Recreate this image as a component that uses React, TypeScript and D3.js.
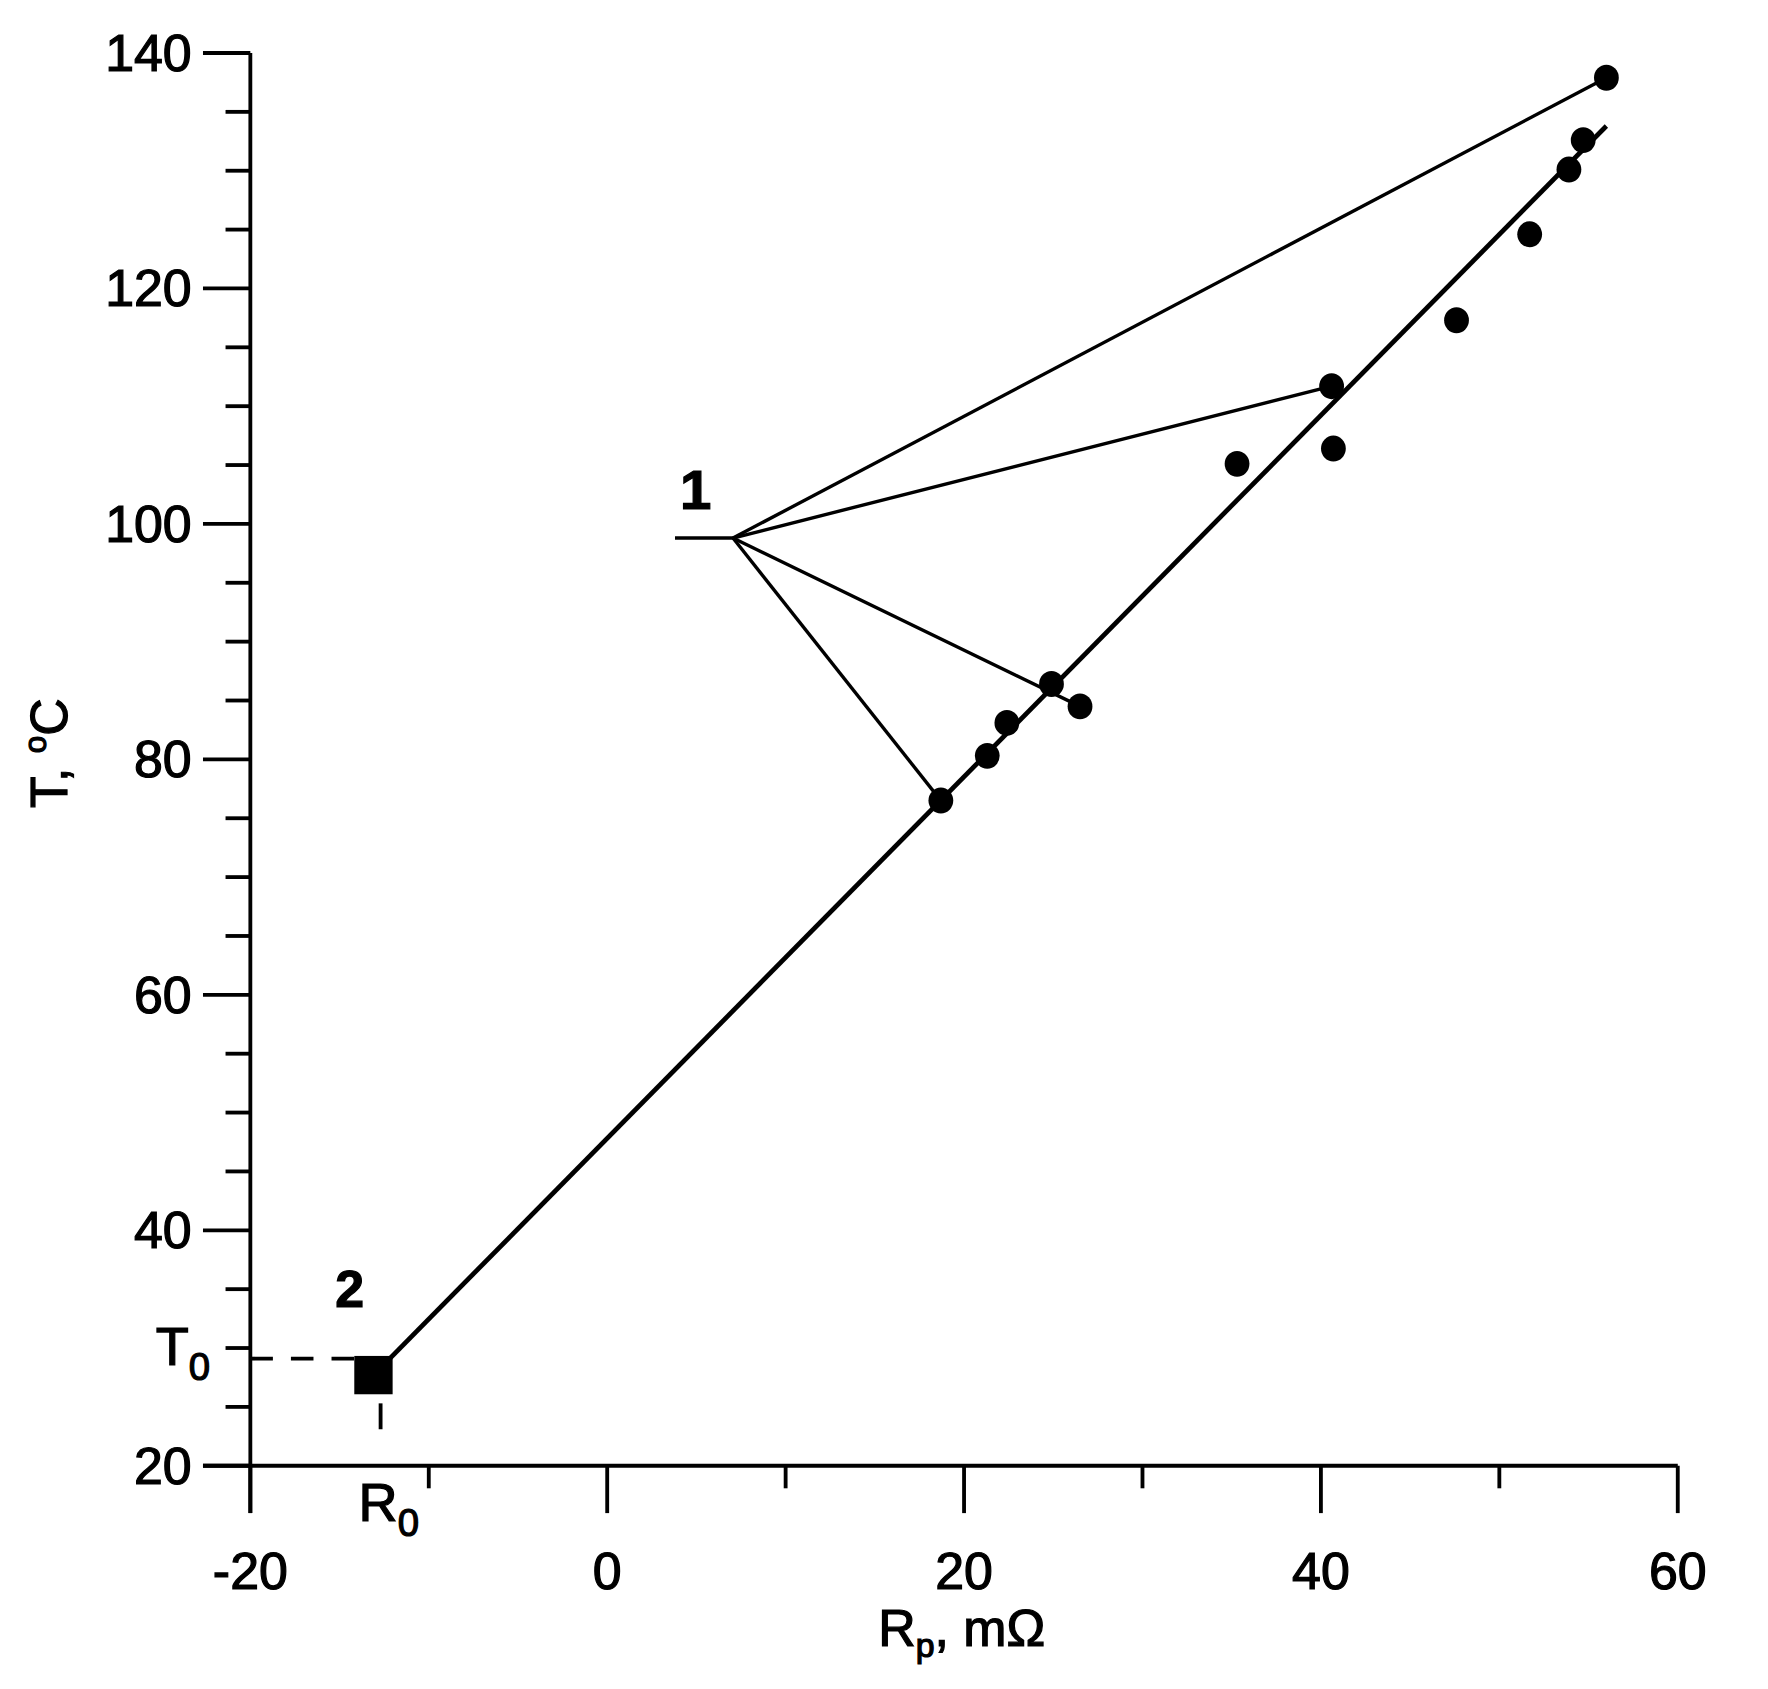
import { useEffect, useRef } from "react";
import * as d3 from "d3";

// measured points: resistance Rp (mΩ) and temperature T (°C)
const resistance = [18.7, 21.3, 22.4, 24.9, 26.5, 35.3, 40.6, 40.7, 47.6, 51.7, 53.9, 54.7, 56.0];
const temperature = [76.5, 80.3, 83.1, 86.4, 84.5, 105.1, 111.7, 106.4, 117.3, 124.6, 130.1, 132.6, 137.9];

// straight fit running from the extrapolated point (R0, T0) to the top
const fitR = [-13.1, 56.0];
const fitT = [27.7, 133.8];

// label "1" hub and the points it points to
const hubR = [3.8, 7.05];
const hubT = 98.8;
const fanTargets = [12, 6, 4, 0];

// extrapolated point "2"
const squareR = -13.1;
const squareT = 27.7;
const T0 = 29.1;
const R0 = -12.7;
const R0Mark = [23.1, 25.3];

const xTicks = d3.range(-20, 61, 10);
const yTicks = d3.range(20, 141, 5);

const W = 1568;
const H = 1498;
const FONT = "'Liberation Sans', Arial, sans-serif";

export default function App() {
  const svgRef = useRef<SVGSVGElement>(null);

  useEffect(() => {
    if (!svgRef.current) return;
    const svg = d3.select(svgRef.current);
    svg.selectAll("*").remove();

    const x = d3.scaleLinear().domain([-20, 60]).range([222, 1488]);
    const y = d3.scaleLinear().domain([20, 140]).range([1300, 47]);

    svg.append("rect").attr("width", W).attr("height", H).attr("fill", "white");

    // scanned look: text gets a thin outline to thicken the strokes
    const g = svg
      .append("g")
      .attr("font-family", FONT)
      .attr("fill", "black");
    const txt = g.append("g").attr("stroke", "black").attr("stroke-width", 1.1);

    // axes
    const axis = g.append("g").attr("stroke", "black").attr("stroke-width", 3.4);
    axis.append("line").attr("x1", x(-20) - 42).attr("x2", x(60)).attr("y1", y(20)).attr("y2", y(20));
    axis.append("line").attr("x1", x(-20)).attr("x2", x(-20)).attr("y1", y(20) + 42).attr("y2", y(140));

    axis
      .selectAll(".xt")
      .data(xTicks)
      .enter()
      .append("line")
      .attr("x1", (d) => x(d))
      .attr("x2", (d) => x(d))
      .attr("y1", y(20))
      .attr("y2", (d) => y(20) + (d % 20 === 0 ? 42 : 20));

    axis
      .selectAll(".yt")
      .data(yTicks)
      .enter()
      .append("line")
      .attr("y1", (d) => y(d))
      .attr("y2", (d) => y(d))
      .attr("x1", x(-20))
      .attr("x2", (d) => x(-20) - (d % 20 === 0 ? 42 : 22));

    txt
      .selectAll(".xl")
      .data(xTicks.filter((d) => d % 20 === 0))
      .enter()
      .append("text")
      .attr("x", (d) => x(d))
      .attr("y", 1409)
      .attr("text-anchor", "middle")
      .attr("font-size", 46)
      .text((d) => String(d));

    txt
      .selectAll(".yl")
      .data(yTicks.filter((d) => d % 20 === 0))
      .enter()
      .append("text")
      .attr("x", 170)
      .attr("y", (d) => y(d) + 16)
      .attr("text-anchor", "end")
      .attr("font-size", 46)
      .text((d) => String(d));

    // axis titles
    const yTitle = txt
      .append("text")
      .attr("transform", "translate(59, 668) rotate(-90)")
      .attr("text-anchor", "middle")
      .attr("font-size", 46);
    yTitle.append("tspan").text("T, ");
    yTitle.append("tspan").attr("font-size", 28).attr("dy", -18).text("o");
    yTitle.append("tspan").attr("dy", 18).text("C");

    const xTitle = txt
      .append("text")
      .attr("x", 853)
      .attr("y", 1460)
      .attr("text-anchor", "middle")
      .attr("font-size", 46);
    xTitle.append("tspan").text("R");
    xTitle.append("tspan").attr("font-size", 30).attr("dy", 10).text("p");
    xTitle.append("tspan").attr("dy", -10).text(", mΩ");

    // fit line
    g.append("line")
      .attr("x1", x(fitR[0]))
      .attr("y1", y(fitT[0]))
      .attr("x2", x(fitR[1]))
      .attr("y2", y(fitT[1]))
      .attr("stroke", "black")
      .attr("stroke-width", 4.2);

    // fan of pointer lines from label 1
    const fan = g.append("g").attr("stroke", "black").attr("stroke-width", 3);
    fan.append("line")
      .attr("x1", x(hubR[0]))
      .attr("x2", x(hubR[1]))
      .attr("y1", y(hubT))
      .attr("y2", y(hubT));
    fan
      .selectAll(".fan")
      .data(fanTargets)
      .enter()
      .append("line")
      .attr("x1", x(hubR[1]))
      .attr("y1", y(hubT))
      .attr("x2", (i) => x(resistance[i]))
      .attr("y2", (i) => y(temperature[i]));

    // T0 dashed guide and R0 mark
    g.append("line")
      .attr("x1", x(-20))
      .attr("x2", x(squareR) - 12)
      .attr("y1", y(T0))
      .attr("y2", y(T0))
      .attr("stroke", "black")
      .attr("stroke-width", 3.4)
      .attr("stroke-dasharray", "20 16");
    g.append("line")
      .attr("x1", x(R0))
      .attr("x2", x(R0))
      .attr("y1", y(R0Mark[0]))
      .attr("y2", y(R0Mark[1]))
      .attr("stroke", "black")
      .attr("stroke-width", 3.4);

    // data points
    g.selectAll(".pt")
      .data(resistance)
      .enter()
      .append("ellipse")
      .attr("cx", (d) => x(d))
      .attr("cy", (_d, i) => y(temperature[i]))
      .attr("rx", 11)
      .attr("ry", 11.5)
      .attr("fill", "black");

    g.append("rect")
      .attr("x", x(squareR) - 17)
      .attr("y", y(squareT) - 17)
      .attr("width", 34)
      .attr("height", 34)
      .attr("fill", "black");

    // annotations
    txt
      .append("text")
      .attr("x", 617)
      .attr("y", 451)
      .attr("text-anchor", "middle")
      .attr("font-size", 50)
      .attr("font-weight", "bold")
      .text("1");
    txt
      .append("text")
      .attr("x", 310)
      .attr("y", 1159)
      .attr("text-anchor", "middle")
      .attr("font-size", 46)
      .attr("font-weight", "bold")
      .text("2");

    const t0 = txt.append("text").attr("x", 138).attr("y", 1211).attr("font-size", 48);
    t0.append("tspan").text("T");
    t0.append("tspan").attr("font-size", 34).attr("dy", 13).text("0");

    const r0 = txt.append("text").attr("x", 318).attr("y", 1349).attr("font-size", 48);
    r0.append("tspan").text("R");
    r0.append("tspan").attr("font-size", 34).attr("dy", 13).text("0");
  }, []);

  return (
    <svg
      ref={svgRef}
      width={1768}
      height={1689}
      viewBox={`0 0 ${W} ${H}`}
      style={{ position: "absolute", left: 0, top: 0, display: "block" }}
    />
  );
}
